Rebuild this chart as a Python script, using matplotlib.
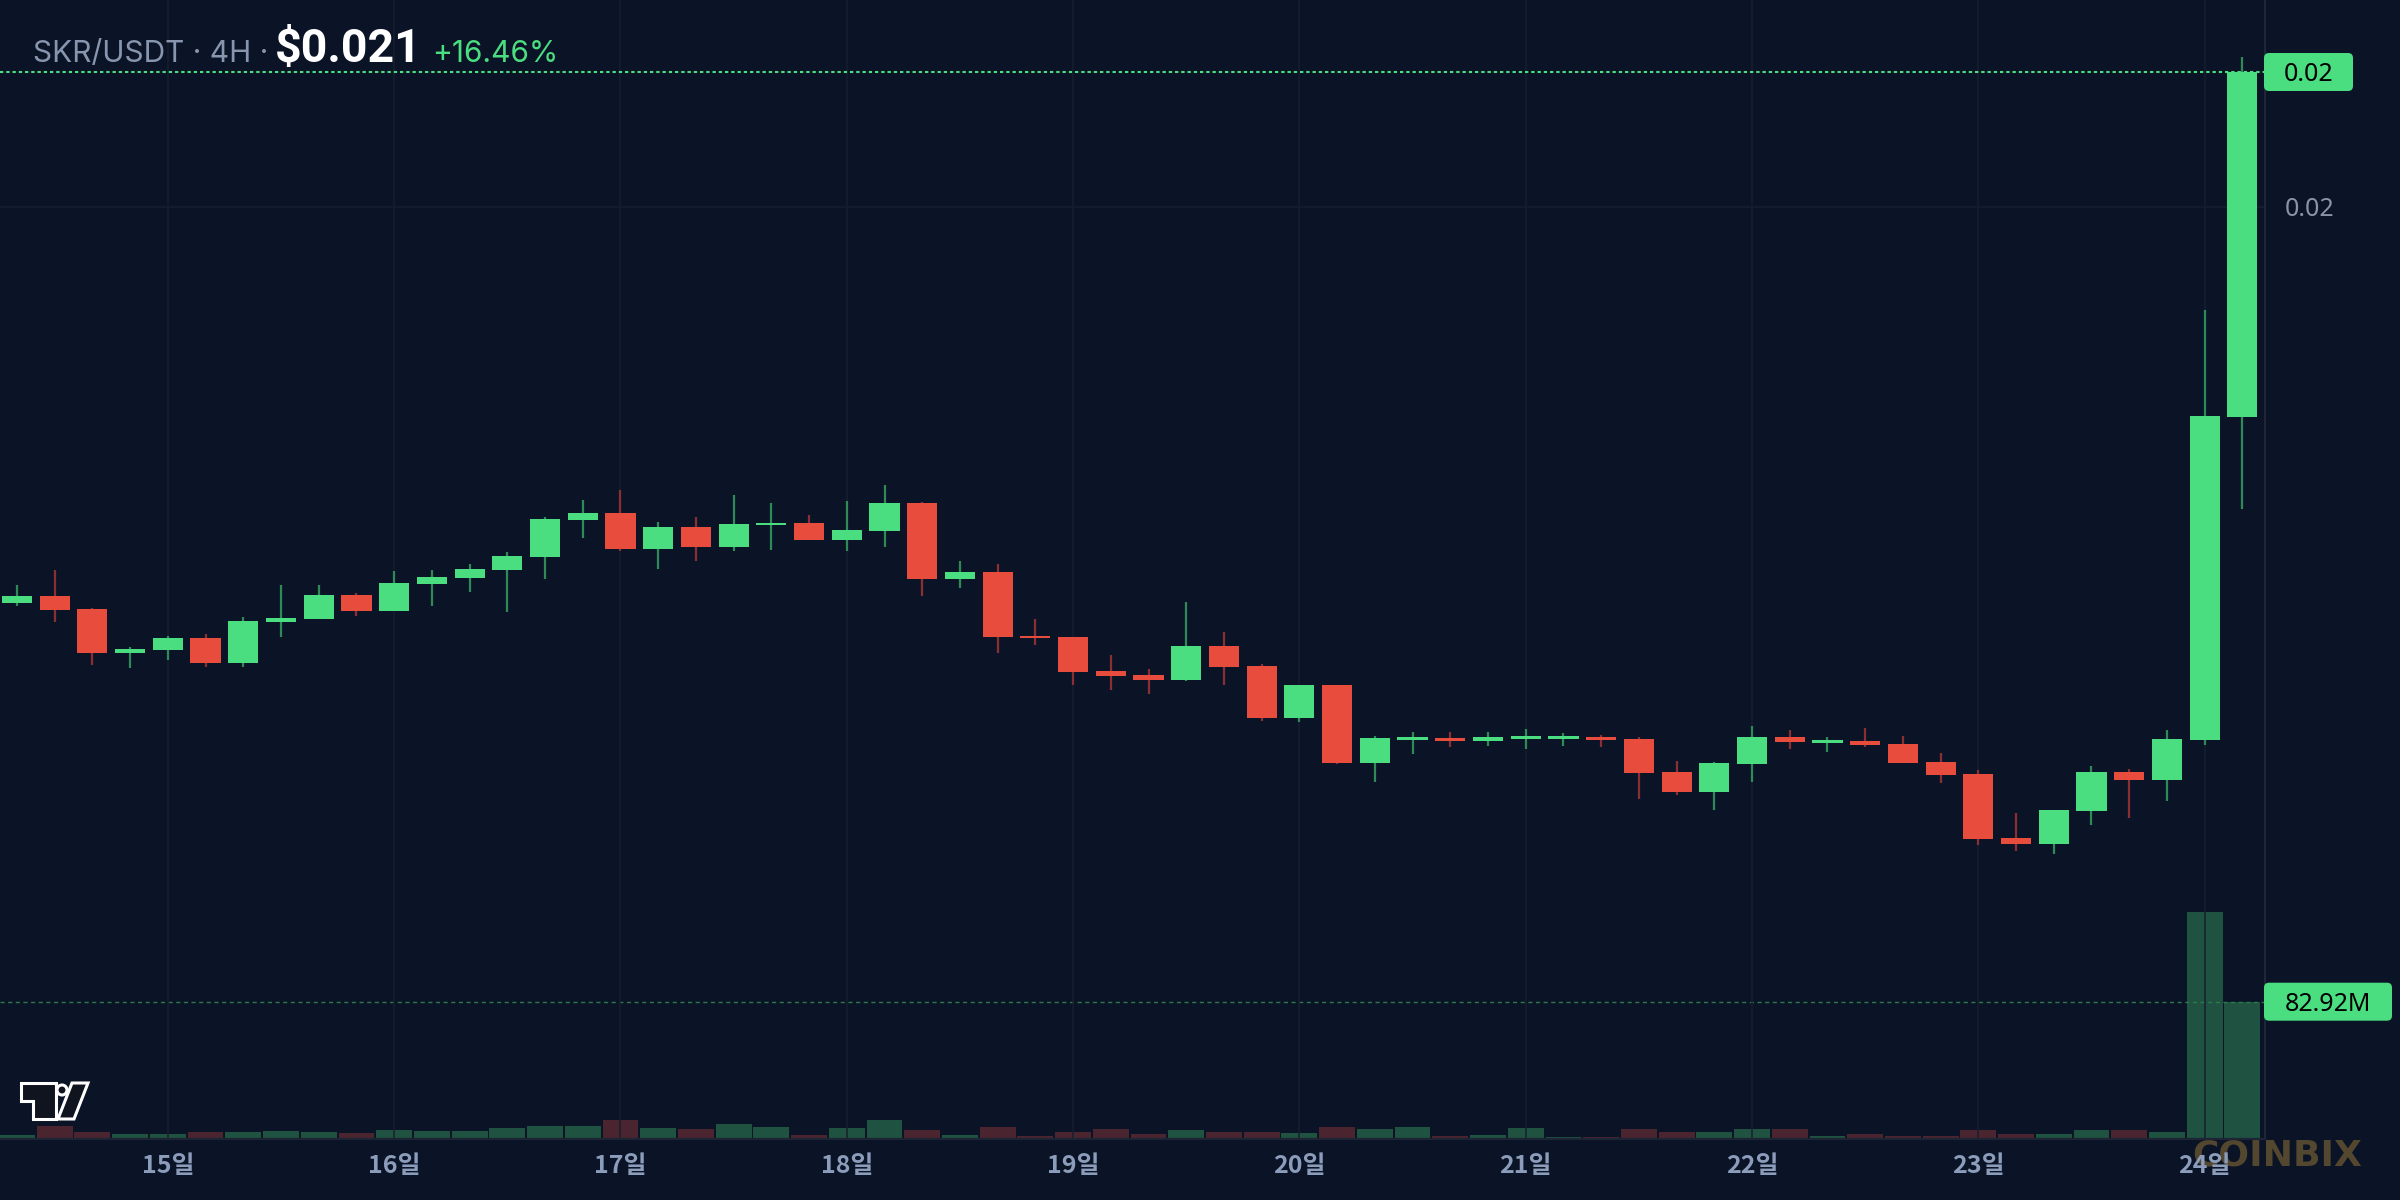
import numpy as np
import matplotlib.pyplot as plt
from matplotlib.patches import FancyBboxPatch, Polygon, Ellipse
from matplotlib.transforms import IdentityTransform

BG = '#0b1326'
GREEN = '#4ade80'
RED = '#e74c3c'
GREEN_WICK = '#2f8a56'
RED_WICK = '#8a2f33'
GREEN_VOL = '#1f5240'
RED_VOL = '#4a242e'
GRID = '#161e2f'
AXLINE = '#1e2638'

# 4H candles, 14일 08:00 .. 24일 04:00
opens = [
    0.018415, 0.018443, 0.018391, 0.018215, 0.018227, 0.018275, 0.018175, 0.018339, 0.018351, 0.018447,
    0.018383, 0.018491, 0.018515, 0.018547, 0.018599, 0.018747, 0.018775, 0.018631, 0.018719, 0.018639,
    0.018727, 0.018735, 0.018667, 0.018703, 0.018815, 0.018511, 0.018539, 0.018283, 0.018279, 0.018143,
    0.018127, 0.018107, 0.018243, 0.018163, 0.017955, 0.018087, 0.017775, 0.017867, 0.017875, 0.017863,
    0.017871, 0.017871, 0.017879, 0.017871, 0.017739, 0.017659, 0.017771, 0.017879, 0.017855, 0.017863,
    0.017851, 0.017779, 0.017731, 0.017475, 0.017451, 0.017583, 0.017739, 0.017707, 0.017867, 0.019159,
]
closes = [
    0.018443, 0.018387, 0.018215, 0.018231, 0.018275, 0.018175, 0.018343, 0.018355, 0.018447, 0.018383,
    0.018495, 0.018519, 0.018551, 0.018603, 0.018751, 0.018775, 0.018631, 0.018719, 0.018639, 0.018731,
    0.018735, 0.018667, 0.018707, 0.018815, 0.018511, 0.018539, 0.018279, 0.018275, 0.018139, 0.018123,
    0.018107, 0.018243, 0.018159, 0.017955, 0.018087, 0.017775, 0.017875, 0.017879, 0.017863, 0.017879,
    0.017883, 0.017883, 0.017867, 0.017735, 0.017659, 0.017775, 0.017879, 0.017859, 0.017867, 0.017847,
    0.017775, 0.017727, 0.017471, 0.017451, 0.017587, 0.017739, 0.017707, 0.017871, 0.019163, 0.020539,
]
highs = [
    0.018487, 0.018547, 0.018395, 0.018239, 0.018283, 0.018291, 0.018359, 0.018487, 0.018487, 0.018455,
    0.018543, 0.018547, 0.018571, 0.018619, 0.018759, 0.018827, 0.018867, 0.018739, 0.018759, 0.018847,
    0.018815, 0.018767, 0.018823, 0.018887, 0.018819, 0.018583, 0.018571, 0.018351, 0.018279, 0.018207,
    0.018151, 0.018419, 0.018299, 0.018171, 0.018087, 0.018087, 0.017883, 0.017899, 0.017899, 0.017899,
    0.017911, 0.017895, 0.017887, 0.017879, 0.017783, 0.017779, 0.017923, 0.017907, 0.017879, 0.017915,
    0.017883, 0.017815, 0.017747, 0.017575, 0.017587, 0.017763, 0.017751, 0.017907, 0.019587, 0.020599,
]
lows = [
    0.018403, 0.018339, 0.018167, 0.018155, 0.018187, 0.018159, 0.018159, 0.018279, 0.018351, 0.018363,
    0.018383, 0.018403, 0.018459, 0.018379, 0.018511, 0.018675, 0.018623, 0.018551, 0.018583, 0.018623,
    0.018627, 0.018667, 0.018623, 0.018639, 0.018443, 0.018475, 0.018215, 0.018247, 0.018087, 0.018067,
    0.018051, 0.018103, 0.018087, 0.017943, 0.017939, 0.017771, 0.017699, 0.017811, 0.017839, 0.017843,
    0.017831, 0.017843, 0.017839, 0.017631, 0.017647, 0.017587, 0.017699, 0.017831, 0.017819, 0.017839,
    0.017775, 0.017695, 0.017447, 0.017423, 0.017411, 0.017527, 0.017555, 0.017623, 0.017847, 0.018791,
]
# volume in millions
volumes = [
    2.4, 7.9, 4.2, 3.0, 3.0, 4.2, 4.2, 4.8, 4.2, 3.6,
    5.4, 4.8, 4.8, 6.6, 7.9, 7.9, 11.5, 6.6, 6.0, 9.1,
    7.2, 2.4, 6.6, 11.5, 5.4, 2.4, 7.2, 1.8, 4.2, 6.0,
    3.0, 5.4, 4.2, 4.2, 3.6, 7.2, 6.0, 7.2, 1.8, 2.4,
    6.6, 1.2, 1.2, 6.0, 4.2, 4.2, 6.0, 6.0, 1.8, 3.0,
    1.8, 1.8, 5.4, 3.0, 3.0, 5.4, 5.4, 4.2, 137.0, 82.92,
]
day_labels = ['15일', '16일', '17일', '18일', '19일', '20일', '21일', '22일', '23일', '24일']
first_day_idx = 4
price_ticks = [0.02]

title_pair = 'SKR/USDT · 4H ·'
title_price = '$0.021'
title_change = '+16.46%'
last_price_text = '0.02'
last_volume_text = '82.92M'

W, H = 2400, 1200
fig = plt.figure(figsize=(24, 12), dpi=100, facecolor=BG)
rect = [0, 61 / H, 2265 / W, 1139 / H]

vol = fig.add_axes(rect, facecolor=BG)
ax = fig.add_axes(rect, facecolor='none')

x = np.arange(len(opens))
o = np.array(opens); c = np.array(closes)
hi = np.array(highs); lo = np.array(lows)
up = c >= o

xlim = (-0.45, 59.6)
ylim = (0.016271, 0.020827)

# volume pane
vol.bar(x, volumes, width=0.95, color=np.where(up, GREEN_VOL, RED_VOL), linewidth=0)
vol.axhline(volumes[-1], color='#2a7a4c', lw=1.0, ls=(0, (3, 2.5)))
vol.set_xlim(xlim)
vol.set_ylim(0, 82.92 * 1139 / 137.3)
vol.axis('off')

# candles
ax.vlines(x, lo, hi, colors=np.where(up, GREEN_WICK, RED_WICK), lw=1.6, zorder=2)
body_low = np.minimum(o, c)
body_h = np.maximum(np.abs(c - o), 0.000008)
ax.bar(x, body_h, bottom=body_low, width=0.8,
       color=np.where(up, GREEN, RED), linewidth=0, zorder=3)

ax.axhline(closes[-1], color=GREEN, lw=1.5, ls=(0, (1.6, 1.4)), zorder=4)

ax.set_xlim(xlim)
ax.set_ylim(ylim)
ax.set_xticks(np.arange(first_day_idx, len(opens), 6))
ax.set_xticklabels(day_labels, family=['Noto Sans CJK KR', 'DejaVu Sans'],
                   fontsize=18, fontweight='bold', color='#8b9dba')
ax.yaxis.tick_right()
ax.set_yticks(price_ticks)
ax.set_yticklabels(['%.2f' % v for v in price_ticks], family='Noto Sans',
                   fontsize=18, color='#8a94a8')
ax.tick_params(axis='x', length=0, pad=11)
ax.tick_params(axis='y', length=0, pad=14)
ax.grid(True, color=GRID, lw=1.1)
ax.set_axisbelow(True)
for s in ['top', 'left']:
    ax.spines[s].set_visible(False)
ax.spines['right'].set_color(AXLINE)
ax.spines['right'].set_linewidth(1.5)
ax.spines['bottom'].set_color('#1c2436')
ax.spines['bottom'].set_linewidth(1.6)


def value_box(axis, value, text, width):
    ypx = axis.transData.transform((0, value))[1]
    box = FancyBboxPatch((2264, ypx - 19), width, 38,
                         boxstyle='round,pad=0,rounding_size=5',
                         fc=GREEN, ec='none', transform=IdentityTransform())
    fig.add_artist(box)
    fig.text((2264 + width / 2) / W, ypx / H, text, ha='center', va='center_baseline',
             fontsize=18, family='Noto Sans', color='black')


value_box(ax, closes[-1], last_price_text, 89)
value_box(vol, volumes[-1], last_volume_text, 128)

# header
fig.text(33 / W, 1 - 62 / H, title_pair, fontsize=21.5, family='Inter',
         color='#8796ae', va='baseline')
fig.text(275 / W, 1 - 62 / H, title_price, fontsize=33.5, family='Roboto',
         fontweight='bold', color='white', va='baseline')
fig.text(432 / W, 1 - 62 / H, title_change, fontsize=21.5, family='Inter',
         color=GREEN, va='baseline')

# watermark, under the time labels
fig.text(2277 / W, 1 - 1156 / H, 'COINBIX', fontsize=26, fontweight='bold',
         family='DejaVu Sans', color='#54472f', ha='center', va='center', zorder=-1)


# small TV logo bottom-left
def fxy(pts):
    return [(px / W, 1 - py / H) for px, py in pts]


logo_kw = dict(fc='#10141f', ec='white', lw=2.2, transform=fig.transFigure, joinstyle='miter')
fig.add_artist(Polygon(fxy([(21, 1083), (56, 1083), (56, 1119), (33, 1119), (33, 1101), (21, 1101)]), **logo_kw))
fig.add_artist(Ellipse((62 / W, 1 - 1090 / H), 10 / W, 10 / H, **logo_kw))
fig.add_artist(Polygon(fxy([(72, 1083), (88, 1083), (74, 1119), (58, 1119)]), **logo_kw))

fig.savefig('out.png', dpi=100, facecolor=BG)
